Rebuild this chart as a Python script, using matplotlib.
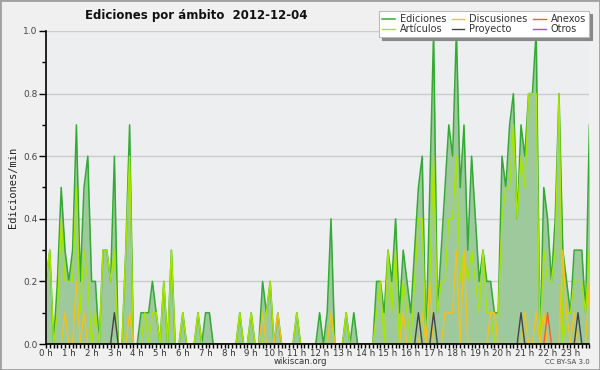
import numpy as np
import matplotlib
matplotlib.use("Agg")
import matplotlib.pyplot as plt
from matplotlib.patches import Rectangle

# ---- data: 10-minute bins (0:00 .. 23:50), edits per minute ----
n_bins = 144
ediciones = [0.0] * n_bins
_e = {0: .2, 1: .3, 2: 0, 3: .2, 4: .5, 5: .3, 6: .2, 7: .3, 8: .7, 9: .2, 10: .5, 11: .6,
      12: .2, 13: .2, 14: 0, 15: .3, 16: .3, 17: .2, 18: .6, 19: 0, 20: 0, 21: .3, 22: .7,
      25: .1, 26: .1, 27: .1, 28: .2, 29: .1, 31: .2, 33: .3, 36: .1, 40: .1, 42: .1, 43: .1,
      51: .1, 54: .1, 57: .2, 58: .1, 59: .2, 61: .1, 66: .1, 72: .1, 74: .1, 75: .4, 79: .1,
      81: .1, 87: .2, 88: .2, 89: .1, 90: .3, 91: .2, 92: .4, 93: .1, 94: .3, 95: .2, 96: .1,
      97: .3, 98: .5, 99: .6, 100: 0, 101: .5, 102: 1.0, 103: .1, 104: .3, 105: .5, 106: .7,
      107: .6, 108: 1.0, 109: .5, 110: .7, 111: .3, 112: .6, 113: .4, 114: .2, 115: .3,
      116: .2, 117: .2, 118: .1, 119: .1, 120: .6, 121: .5, 122: .7, 123: .8, 124: .4,
      125: .7, 126: .6, 127: .8, 128: .8, 129: 1.0, 130: 0, 131: .5, 132: .4, 133: .2,
      134: .4, 135: .8, 136: .3, 137: .2, 138: .1, 139: .3, 140: .3, 141: .3, 142: .1, 143: .7}
for k, v in _e.items():
    ediciones[k] = v

articulos = [0.0] * n_bins
_a = {0: .2, 1: .3, 3: .1, 4: .4, 5: .2, 6: .2, 7: .2, 8: .5, 9: .1, 10: .3, 11: .2, 13: .1,
      15: .3, 16: .3, 17: .2, 18: .3, 21: .3, 22: .6, 26: .1, 28: .1, 29: .1, 31: .2, 33: .3,
      36: .1, 40: .1, 51: .1, 54: .1, 58: .1, 59: .2, 66: .1, 75: .1, 79: .1, 87: .1, 88: .2,
      90: .3, 91: .1, 92: .3, 94: .2, 95: .1, 97: .2, 98: .4, 99: .4, 101: .2, 102: .6,
      103: .1, 104: .2, 105: .2, 106: .4, 107: .4, 108: .6, 109: .2, 110: .3, 111: .2,
      112: .3, 113: .2, 114: .1, 115: .3, 116: .1, 117: .1, 119: .1, 120: .4, 121: .5,
      122: .5, 123: .7, 124: .4, 125: .6, 126: .5, 127: .8, 128: .8, 129: .8, 131: .3,
      132: .2, 133: .2, 134: .3, 135: .8, 137: .1, 138: .1, 139: .2, 140: .2, 141: .2,
      142: .1, 143: .3}
for k, v in _a.items():
    articulos[k] = v

discusiones = [0.0] * n_bins
_d = {5: .1, 8: .2, 10: .1, 22: .1, 57: .1, 61: .1, 75: .1, 94: .1, 99: .1, 101: .2,
      105: .1, 106: .1, 107: .1, 108: .3, 110: .3, 117: .1, 118: .1, 126: .1, 129: .1,
      131: .1, 136: .3, 137: .1, 139: .1, 143: .2}
for k, v in _d.items():
    discusiones[k] = v

proyecto = [0.0] * n_bins
for k in (18, 98, 102, 125, 140):
    proyecto[k] = 0.1

anexos = [0.0] * n_bins
anexos[132] = 0.1

otros = [0.0] * n_bins

hours = np.arange(n_bins) / 6.0
hour_labels = [f"{h} h" for h in range(24)]

# ---- figure ----
fig = plt.figure(figsize=(6, 3.7), dpi=100, facecolor="#f0f0f0")
ax = fig.add_axes([46 / 600, 1 - 344 / 370, (589.4 - 46) / 600, (344 - 31) / 370])
ax.set_facecolor("#eceef0")

ax.fill_between(hours, ediciones, 0, color="#9dc99d", linewidth=0, zorder=1.5)
ax.plot(hours, ediciones, color="#33aa33", lw=1.1, label="Ediciones", zorder=2)
ax.plot(hours, articulos, color="#a6e600", lw=1.0, label="Artículos", zorder=2.1)
ax.plot(hours, discusiones, color="#f2c21a", lw=1.0, label="Discusiones", zorder=2.2)
ax.plot(hours, proyecto, color="#444444", lw=1.0, label="Proyecto", zorder=2.3)
ax.plot(hours, anexos, color="#f06030", lw=1.0, label="Anexos", zorder=2.4)
ax.plot(hours, otros, color="#9a4ef0", lw=1.0, label="Otros", zorder=1.2)

ax.set_xlim(0, hours[-1])
ax.set_ylim(0, 1.0)
ax.set_yticks(np.arange(0, 1.01, 0.2))
ax.set_yticklabels([f"{v:.1f}" for v in np.arange(0, 1.01, 0.2)])
ax.set_yticks(np.arange(0.1, 1.0, 0.2), minor=True)
ax.set_xticks(range(24))
ax.set_xticklabels(hour_labels)
ax.set_xticks(hours, minor=True)
ax.yaxis.grid(True, color="#cccccc", lw=1, zorder=1)
ax.set_axisbelow(True)

for s in ("top", "right"):
    ax.spines[s].set_visible(False)
for s in ("left", "bottom"):
    ax.spines[s].set_color("black")
    ax.spines[s].set_linewidth(1.2)
    ax.spines[s].set_zorder(3)

ax.tick_params(axis="y", which="major", length=5, width=1, labelsize=6.5,
               labelcolor="#444444", pad=1)
ax.tick_params(axis="y", which="minor", length=3, width=1)
ax.tick_params(axis="x", which="major", length=3, width=1, labelsize=6.2,
               labelcolor="#333333", pad=0.5)
ax.tick_params(axis="x", which="minor", length=3, width=1)

ax.set_ylabel("Ediciones/min", family="DejaVu Sans Mono", fontsize=7.5,
              color="#222222", labelpad=4)

fig.text(85 / 600, 1 - 16 / 370, "Ediciones por ámbito  2012-12-04",
         fontsize=8.5, fontweight="bold", ha="left", va="center", color="#111111")
fig.text(300 / 600, 1 - 362 / 370, "wikiscan.org", fontsize=6.2,
         ha="center", va="center", color="#333333")
fig.text(590 / 600, 1 - 362.5 / 370, "CC BY-SA 3.0", fontsize=5,
         ha="right", va="center", color="#444444")

leg = ax.legend(ncol=3, loc="upper right", bbox_to_anchor=(589 / 600, 1 - 11 / 370),
                bbox_transform=fig.transFigure, fontsize=7, frameon=True,
                fancybox=False, shadow={"color": "#888888", "alpha": 1},
                handlelength=1.3, handletextpad=0.5, columnspacing=0.6,
                labelspacing=0.05, borderpad=0.3, borderaxespad=0)
leg.get_frame().set_facecolor("white")
leg.get_frame().set_edgecolor("#bbbbbb")
leg.get_frame().set_linewidth(0.8)
for t in leg.get_texts():
    t.set_color("#333333")
leg.set_zorder(5)

fig.patches.append(Rectangle((0, 0), 1, 1, transform=fig.transFigure, fill=False,
                             edgecolor="#a0a0a0", linewidth=2))

fig.savefig("out.png", dpi=100, facecolor=fig.get_facecolor())
